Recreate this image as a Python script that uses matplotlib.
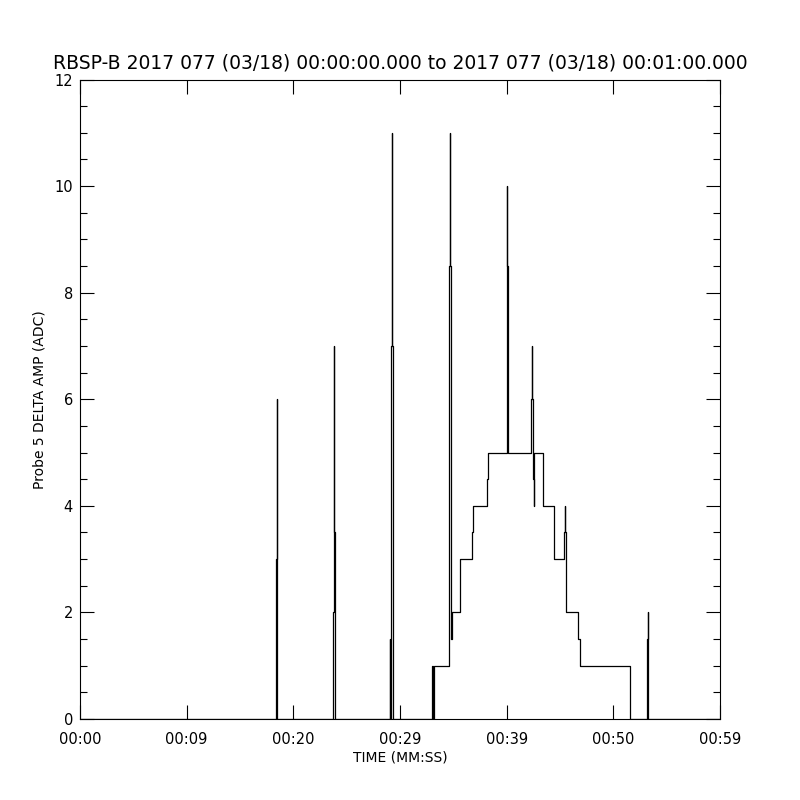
import matplotlib
matplotlib.use("Agg")
import matplotlib.pyplot as plt
import numpy as np

# step series (steps-post): time in seconds, value in ADC
times = [0.0,
         18.40, 18.43, 18.455, 18.50,
         23.72, 23.80, 23.815, 23.90, 23.93,
         29.03, 29.10, 29.14, 29.20, 29.27, 29.28, 29.33, 29.37,
         32.97, 33.02, 33.05, 33.15, 33.21,
         34.55, 34.60, 34.67, 34.68, 34.74, 34.78, 34.81, 34.85,
         35.63,
         36.72, 36.80,
         38.13, 38.22,
         40.00, 40.06, 40.07, 40.12, 40.16,
         42.31, 42.38, 42.39, 42.45,
         42.50, 42.53, 42.59,
         43.36, 43.45,
         44.47,
         45.40, 45.47, 45.48, 45.59,
         46.72, 46.85,
         51.59,
         53.13, 53.16, 53.22, 53.23,
         60.0]
values = [0,
          3, 6, 3, 0,
          2, 7, 3.5, 2, 0,
          1.5, 0, 1.5, 7, 11, 7, 0.5, 0,
          0.5, 1, 0, 0.5, 1,
          3.5, 8.5, 11, 8.5, 3.5, 2, 1.5, 2,
          3,
          3.5, 4,
          4.5, 5,
          8, 10, 8.5, 8, 5,
          6, 7, 6, 5,
          4.5, 4, 5,
          4.5, 4,
          3,
          3.5, 4, 3.5, 2,
          1.5, 1,
          0,
          0.5, 1.5, 2, 0,
          0]

xticks = [0, 10, 20, 30, 40, 50, 60]
xticklabels = ['00:00', '00:09', '00:20', '00:29', '00:39', '00:50', '00:59']
yticks = [0, 2, 4, 6, 8, 10, 12]

title = 'RBSP-B 2017 077 (03/18) 00:00:00.000 to 2017 077 (03/18) 00:01:00.000'

fig = plt.figure(figsize=(8, 8), dpi=100)
ax = fig.add_axes([0.1, 0.10125, 0.8, 0.79935])
ax.plot(times, values, drawstyle='steps-post', color='black', lw=0.9)
ax.set_xlim(0, 60)
ax.set_ylim(0, 12)

ax.set_xticks(xticks)
ax.set_xticklabels(xticklabels)
ax.set_yticks(yticks)
ax.set_yticks(np.arange(0, 12.01, 0.5), minor=True)

ax.tick_params(axis='both', which='major', direction='in', length=10, width=0.8,
               top=True, right=True, labelsize=10.5, color='black')
ax.tick_params(axis='y', which='minor', direction='in', length=5, width=0.8,
               left=True, right=True)
ax.tick_params(axis='x', which='major', pad=9)
ax.tick_params(axis='y', which='major', pad=5)
for s in ax.spines.values():
    s.set_linewidth(0.8)

ax.set_title(title, fontsize=13.5, pad=8)
ax.set_xlabel('TIME (MM:SS)', fontsize=10, labelpad=3)
ax.set_ylabel('Probe 5 DELTA AMP (ADC)', fontsize=10, labelpad=6)

fig.savefig('out.png', dpi=100, facecolor='white')
